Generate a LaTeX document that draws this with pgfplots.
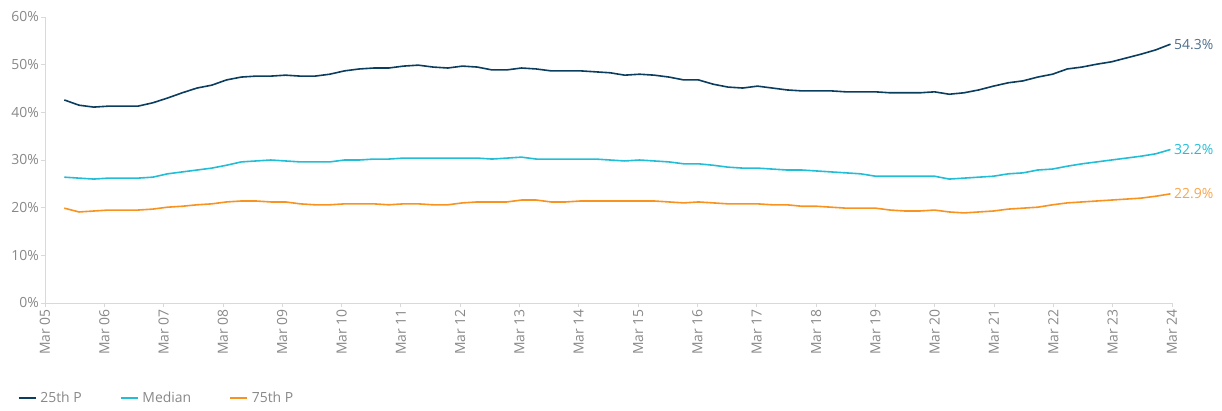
\documentclass[border=0pt]{standalone}
\usepackage{pgfplots}
\usepackage{pgfplotstable}
\pgfplotsset{compat=1.18}
\usepackage{fontspec}
\setmainfont{Open Sans}
\definecolor{navy}{HTML}{0B3D5F}
\definecolor{cyanl}{HTML}{22BDD6}
\definecolor{orng}{HTML}{F7931E}
\definecolor{axgray}{HTML}{D9D9D9}
\definecolor{txtgray}{HTML}{888888}
\definecolor{navylab}{HTML}{4D6F8C}
\definecolor{orglab}{HTML}{F9A44A}

\pgfplotstableread{
q p25 med p75
1 42.6 26.4 19.9
2 41.5 26.2 19.1
3 41.1 26.0 19.3
4 41.3 26.2 19.5
5 41.3 26.2 19.5
6 41.3 26.2 19.5
7 42.0 26.4 19.7
8 43.0 27.1 20.1
9 44.1 27.5 20.3
10 45.1 27.9 20.6
11 45.7 28.3 20.8
12 46.8 28.9 21.2
13 47.4 29.6 21.4
14 47.6 29.8 21.4
15 47.6 30.0 21.2
16 47.8 29.8 21.2
17 47.6 29.6 20.8
18 47.6 29.6 20.6
19 48.0 29.6 20.6
20 48.7 30.0 20.8
21 49.1 30.0 20.8
22 49.3 30.2 20.8
23 49.3 30.2 20.6
24 49.7 30.4 20.8
25 49.9 30.4 20.8
26 49.5 30.4 20.6
27 49.3 30.4 20.6
28 49.7 30.4 21.0
29 49.5 30.4 21.2
30 48.9 30.2 21.2
31 48.9 30.4 21.2
32 49.3 30.6 21.6
33 49.1 30.2 21.6
34 48.7 30.2 21.2
35 48.7 30.2 21.2
36 48.7 30.2 21.4
37 48.5 30.2 21.4
38 48.3 30.0 21.4
39 47.8 29.8 21.4
40 48.0 30.0 21.4
41 47.8 29.8 21.4
42 47.4 29.6 21.2
43 46.8 29.2 21.0
44 46.8 29.2 21.2
45 45.9 28.9 21.0
46 45.3 28.5 20.8
47 45.1 28.3 20.8
48 45.5 28.3 20.8
49 45.1 28.1 20.6
50 44.7 27.9 20.6
51 44.5 27.9 20.3
52 44.5 27.7 20.3
53 44.5 27.5 20.1
54 44.3 27.3 19.9
55 44.3 27.1 19.9
56 44.3 26.6 19.9
57 44.1 26.6 19.5
58 44.1 26.6 19.3
59 44.1 26.6 19.3
60 44.3 26.6 19.5
61 43.8 26.0 19.1
62 44.1 26.2 18.9
63 44.7 26.4 19.1
64 45.5 26.6 19.3
65 46.2 27.1 19.7
66 46.6 27.3 19.9
67 47.4 27.9 20.1
68 48.0 28.1 20.6
69 49.1 28.7 21.0
70 49.5 29.2 21.2
71 50.1 29.6 21.4
72 50.6 30.0 21.6
73 51.4 30.4 21.8
74 52.2 30.8 22.0
75 53.1 31.3 22.4
76 54.3 32.2 22.9
}\datatable

\begin{document}
\begin{tikzpicture}[x=1bp,y=1bp]
\begin{axis}[
    scale only axis,
    width=1127bp, height=286bp,
    xmin=0, xmax=76,
    ymin=0, ymax=60,
    axis lines=left,
    axis line style={axgray, line width=0.8bp, -},
    xtick={0,4,...,76},
    xticklabels={Mar 05,Mar 06,Mar 07,Mar 08,Mar 09,Mar 10,Mar 11,Mar 12,Mar 13,Mar 14,Mar 15,Mar 16,Mar 17,Mar 18,Mar 19,Mar 20,Mar 21,Mar 22,Mar 23,Mar 24},
    xticklabel style={rotate=90, anchor=east, font=\fontsize{14}{16}\selectfont, text=txtgray, inner sep=2bp},
    ytick={0,10,...,60},
    yticklabel={\pgfmathprintnumber{\tick}\%},
    yticklabel style={font=\fontsize{14}{16}\selectfont, text=txtgray, inner sep=2bp},
    /pgf/number format/assume math mode=true,
    tick align=outside,
    major tick length=4bp,
    tick style={axgray, line width=0.8bp},
    clip=false,
    legend columns=3,
    legend style={at={(axis description cs:-0.027,-0.297)}, anchor=north west, draw=none, fill=none,
      font=\fontsize{14}{16}\selectfont, text=txtgray,
      /tikz/every even column/.append style={column sep=34bp}},
    legend image code/.code={\draw[#1] (0bp,0bp) -- (17bp,0bp);},
    every axis legend/.append style={nodes={inner xsep=4bp}},
    every axis plot/.append style={line width=1.6bp, line join=round},
]
\addplot[navy, mark=none] table[x expr=1.3+(\thisrow{q}-1)*0.9947, y=p25] {\datatable};
\addlegendentry{25th P}
\addplot[cyanl, mark=none] table[x expr=1.3+(\thisrow{q}-1)*0.9947, y=med] {\datatable};
\addlegendentry{Median}
\addplot[orng, mark=none] table[x expr=1.3+(\thisrow{q}-1)*0.9947, y=p75] {\datatable};
\addlegendentry{75th P}
\node[anchor=west, text=navylab, font=\fontsize{14}{16}\selectfont, inner sep=2bp] at (axis cs:76,54.3) {54.3\%};
\node[anchor=west, text=cyanl, font=\fontsize{14}{16}\selectfont, inner sep=2bp] at (axis cs:76,32.2) {32.2\%};
\node[anchor=west, text=orglab, font=\fontsize{14}{16}\selectfont, inner sep=2bp] at (axis cs:76,22.9) {22.9\%};
\end{axis}
\pgfresetboundingbox
\useasboundingbox (-45,-107) rectangle (1177,303);
\end{tikzpicture}
\end{document}
